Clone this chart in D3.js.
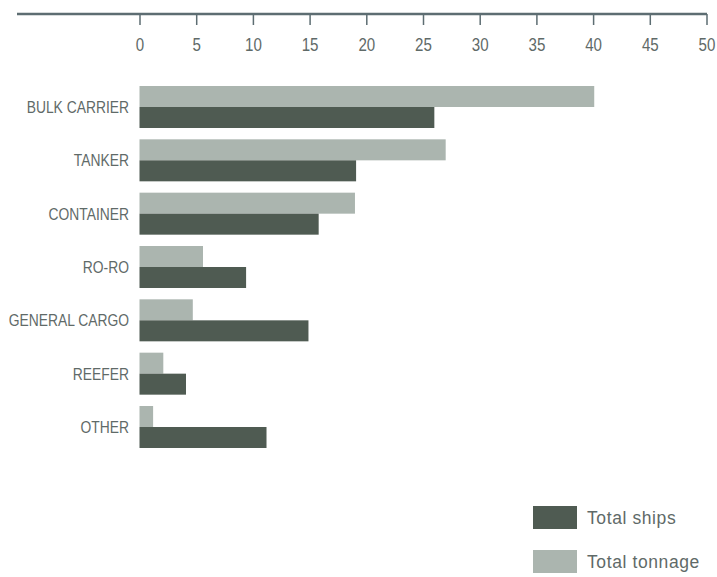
<!DOCTYPE html>
<html>
<head>
<meta charset="utf-8">
<script src="https://cdn.jsdelivr.net/npm/d3@7"></script>
<style>
  html, body { margin: 0; padding: 0; background: #ffffff; }
  svg { display: block; }
</style>
</head>
<body>
<svg id="chart" width="717" height="577"></svg>
<script>
// Fleet composition by ship type (percent)
const categories = ["BULK CARRIER", "TANKER", "CONTAINER", "RO-RO", "GENERAL CARGO", "REEFER", "OTHER"];
const totalShips   = [26.0, 19.1, 15.8, 9.4, 14.9, 4.1, 11.2];
const totalTonnage = [40.1, 27.0, 19.0, 5.6, 4.7, 2.1, 1.2];
const tickValues = [0, 5, 10, 15, 20, 25, 30, 35, 40, 45, 50];
const seriesNames = ["Total ships", "Total tonnage"];

const darkColor = "#4f5b52";
const lightColor = "#abb5af";
const axisColor = "#5d6d72";
const textColor = "#5f6a68";
const plainFont = "'Liberation Sans', Arial, sans-serif";
// condensed look: regular face squeezed horizontally
const narrowScale = 0.84;

const svg = d3.select("#chart");

const x = d3.scaleLinear().domain([0, 50]).range([139.5, 706.5]);
const y = d3.scaleBand().domain(categories).range([86, 448]).paddingInner(0.2125).paddingOuter(0);
const sub = d3.scaleBand().domain(["tonnage", "ships"]).range([0, y.bandwidth()]);

// Top axis rule
svg.append("line")
  .attr("x1", 17).attr("x2", 707)
  .attr("y1", 14).attr("y2", 14)
  .attr("stroke", axisColor).attr("stroke-width", 2.6);

const axis = d3.axisBottom(x).tickValues(tickValues).tickSize(11).tickSizeOuter(0).tickFormat(d3.format("d"));
const gAxis = svg.append("g").attr("transform", "translate(0,14)").call(axis);
gAxis.select(".domain").remove();
gAxis.selectAll(".tick line").attr("stroke", axisColor).attr("stroke-width", 1.5);
gAxis.selectAll(".tick text")
  .attr("y", 37).attr("dy", 0)
  .attr("transform", `scale(${narrowScale},1)`)
  .attr("fill", textColor)
  .style("font-family", plainFont)
  .style("font-size", "18px");

// Bars
const groups = svg.append("g").selectAll("g")
  .data(categories)
  .join("g")
  .attr("transform", d => `translate(0,${y(d)})`);

groups.append("rect")
  .attr("x", x(0))
  .attr("y", sub("tonnage"))
  .attr("width", (d, i) => x(totalTonnage[i]) - x(0))
  .attr("height", sub.bandwidth())
  .attr("fill", lightColor);

groups.append("rect")
  .attr("x", x(0))
  .attr("y", sub("ships"))
  .attr("width", (d, i) => x(totalShips[i]) - x(0))
  .attr("height", sub.bandwidth())
  .attr("fill", darkColor);

// Category labels
groups.append("text")
  .attr("transform", `translate(129,${y.bandwidth() / 2}) scale(${narrowScale},1)`)
  .attr("dy", "0.36em")
  .attr("text-anchor", "end")
  .attr("fill", textColor)
  .style("font-family", plainFont)
  .style("font-size", "16.5px")
  .text(d => d);

// Legend
const legend = svg.append("g").selectAll("g")
  .data(seriesNames)
  .join("g")
  .attr("transform", (d, i) => `translate(533,${506 + i * 44})`);

legend.append("rect")
  .attr("width", 44).attr("height", 23)
  .attr("fill", (d, i) => i === 0 ? darkColor : lightColor);

legend.append("text")
  .attr("x", 54).attr("y", 11.5).attr("dy", "0.36em")
  .attr("fill", textColor)
  .style("font-family", plainFont)
  .style("font-size", "17.5px")
  .style("letter-spacing", "0.6px")
  .text(d => d);
</script>
</body>
</html>
